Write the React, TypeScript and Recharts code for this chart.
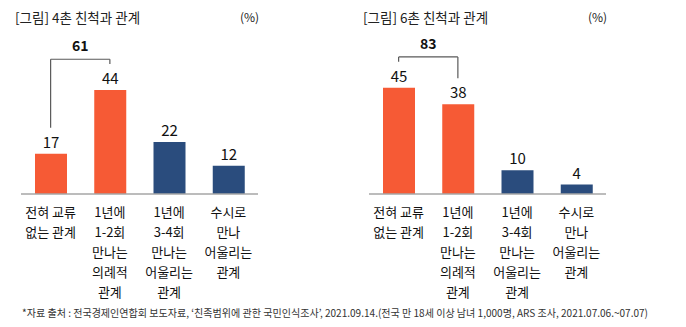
import { Bar, BarChart, Cell, LabelList, ReferenceLine, XAxis, YAxis } from "recharts";

const categories = [
  "전혀 교류|없는 관계",
  "1년에|1-2회|만나는|의례적|관계",
  "1년에|3-4회|만나는|어울리는|관계",
  "수시로|만나|어울리는|관계",
];
const cousin4Values = [17, 44, 22, 12];
const cousin6Values = [45, 38, 10, 4];
const barColors = ["#F65A35", "#F65A35", "#2A4C7D", "#2A4C7D"];
const cousin4Total = 61;
const cousin6Total = 83;

const FONT = "'Noto Sans CJK KR', 'Noto Sans', sans-serif";

function MultiLineTick(props: any) {
  const { x, y, payload } = props;
  const lines = String(payload.value).split("|");
  return (
    <text x={x} y={y} textAnchor="middle" fontSize={13} fill="#111" fontFamily={FONT}>
      {lines.map((l, i) => (
        <tspan key={i} x={x} dy={i === 0 ? 15 : 20}>
          {l}
        </tspan>
      ))}
    </text>
  );
}

function RelationChart({
  title,
  values,
  total,
  left,
  marginLeft,
}: {
  title: string;
  values: number[];
  total: number;
  left: number;
  marginLeft: number;
}) {
  const data = categories.map((c, i) => ({ name: c, value: values[i] }));
  const top = Math.max(values[0], values[1]) + 13;
  return (
    <div style={{ position: "absolute", left, top: 0, width: 343, height: 305 }}>
      <div
        style={{
          position: "absolute",
          left: marginLeft - 6,
          top: 7,
          fontSize: 13.5,
          color: "#222",
          fontFamily: FONT,
          whiteSpace: "nowrap",
        }}
      >
        {title}
      </div>
      <div
        style={{
          position: "absolute",
          left: marginLeft + 219,
          top: 8,
          fontSize: 12,
          color: "#222",
          fontFamily: FONT,
        }}
      >
        (%)
      </div>
      <BarChart
        width={marginLeft + 237 + 20}
        height={305}
        data={data}
        margin={{ top: 38, right: 20, left: marginLeft, bottom: 0 }}
        barSize={32}
      >
        <XAxis
          dataKey="name"
          tick={<MultiLineTick />}
          tickLine={false}
          axisLine={{ stroke: "#A6A6A6", strokeWidth: 1.5 }}
          height={111}
          interval={0}
        />
        <YAxis hide domain={[0, 66]} />
        <ReferenceLine
          segment={[
            { x: categories[0], y: values[0] + 11 },
            { x: categories[0], y: top },
          ]}
          stroke="#595959"
          strokeWidth={1.2}
        />
        <ReferenceLine
          segment={[
            { x: categories[1], y: values[1] + 11 },
            { x: categories[1], y: top },
          ]}
          stroke="#595959"
          strokeWidth={1.2}
        />
        <ReferenceLine
          segment={[
            { x: categories[0], y: top },
            { x: categories[1], y: top },
          ]}
          stroke="#595959"
          strokeWidth={1.2}
          label={{
            value: String(total),
            position: "top",
            offset: 8,
            fontSize: 14,
            fontWeight: 700,
            fill: "#111",
            fontFamily: FONT,
          }}
        />
        <Bar dataKey="value" isAnimationActive={false}>
          {data.map((d, i) => (
            <Cell key={d.name} fill={barColors[i]} />
          ))}
          <LabelList
            dataKey="value"
            position="top"
            offset={6}
            fontSize={15}
            fill="#111"
            fontFamily={FONT}
          />
        </Bar>
      </BarChart>
    </div>
  );
}

export default function App() {
  return (
    <div
      style={{
        position: "absolute",
        left: 0,
        top: 0,
        width: 686,
        height: 327,
        background: "#fff",
        overflow: "hidden",
      }}
    >
      <RelationChart title="[그림] 4촌 친척과 관계" values={cousin4Values} total={cousin4Total} left={0} marginLeft={21} />
      <RelationChart title="[그림] 6촌 친척과 관계" values={cousin6Values} total={cousin6Total} left={343} marginLeft={26} />
      <svg width={686} height={327} style={{ position: "absolute", left: 0, top: 0, pointerEvents: "none" }}>
        <text
          x={22}
          y={317}
          fontSize={10.5}
          fill="#333"
          fontFamily={FONT}
          textLength={626}
          lengthAdjust="spacingAndGlyphs"
        >
          *자료 출처 : 전국경제인연합회 보도자료, ‘친족범위에 관한 국민인식조사’, 2021.09.14.(전국 만 18세 이상 남녀 1,000명, ARS 조사, 2021.07.06.~07.07)
        </text>
      </svg>
    </div>
  );
}
